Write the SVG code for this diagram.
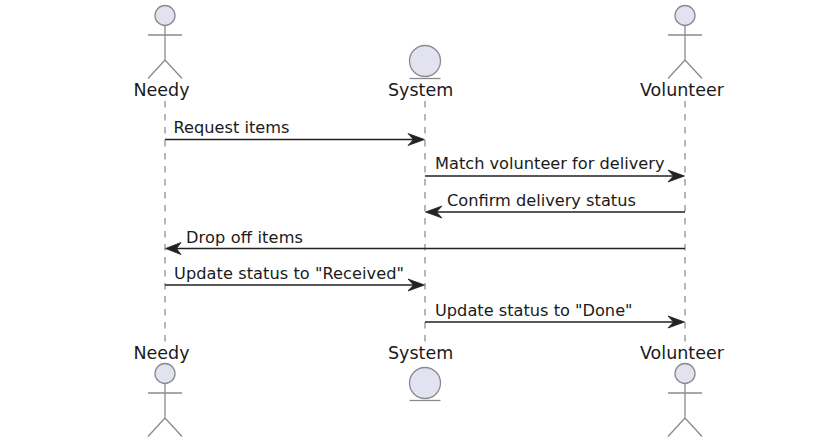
<svg xmlns="http://www.w3.org/2000/svg" width="823" height="437" viewBox="0 0 823 437">
<style>
text{font-family:"DejaVu Sans",sans-serif;fill:#1a1a1a}
.n{font-size:17.5px}
.m{font-size:16.2px}
.life{stroke:#999;stroke-width:1.4;stroke-dasharray:6.5 6.5;fill:none}
.ln{stroke:#222;stroke-width:1.4;fill:none}
.ah{fill:#222;stroke:#222;stroke-width:.8;stroke-linejoin:miter}
.sh{fill:#e2e2f0;stroke:#8a8a8f;stroke-width:1.3}
.st{fill:none;stroke:#8a8a8f;stroke-width:1.3}
</style>
<defs>
<g id="actor"><circle class="sh" cx="0" cy="0" r="10"/><path class="st" d="M0 10V44.500M-17 19.500H17M0 44.500L-17 63M0 44.500L17 63"/></g>
<g id="entity"><circle class="sh" cx="0" cy="0" r="15.500"/><path class="st" d="M-15.500 17.500H15.500"/></g>
</defs>
<rect width="823" height="437" fill="#fff"/>
<g id="connectors">
<path class="life" d="M165 101V342"/><path class="life" d="M425 101V342"/><path class="life" d="M685 101V342"/>
<path class="ln" d="M165 139.500H420M425 176H680M685 212H430M685 248.500H170M165 285H420M425 322H680"/>
<path class="ah" d="M424.500 139.500L408 133.500L413.500 139.500L408 145.500Z"/>
<path class="ah" d="M684.500 176L668 170L673.500 176L668 182Z"/>
<path class="ah" d="M425.500 212L442 206L436.500 212L442 218Z"/>
<path class="ah" d="M165.500 248.500L181 242.500L176.500 248.500L181 254.500Z"/>
<path class="ah" d="M424.500 285L408 279L413.500 285L408 291Z"/>
<path class="ah" d="M684.500 322L668 316L673.500 322L668 328Z"/>
<text class="m" x="173.500" y="132.500">Request items</text>
<text class="m" x="435" y="169">Match volunteer for delivery</text>
<text class="m" x="447" y="206">Confirm delivery status</text>
<text class="m" x="186" y="243" textLength="117">Drop off items</text>
<text class="m" x="174" y="279" textLength="230">Update status to "Received"</text>
<text class="m" x="435" y="315.500">Update status to "Done"</text>
</g>
<g id="needy-top"><use href="#actor" x="165" y="15.500"/><text class="n" x="133.500" y="96">Needy</text></g>
<g id="system-top"><use href="#entity" x="425" y="61"/><text class="n" x="388" y="96">System</text></g>
<g id="volunteer-top"><use href="#actor" x="685" y="15.500"/><text class="n" x="640" y="96">Volunteer</text></g>
<g id="needy-bottom"><text class="n" x="133.500" y="359">Needy</text><use href="#actor" x="165" y="373.500"/></g>
<g id="system-bottom"><text class="n" x="388" y="359">System</text><use href="#entity" x="425" y="383"/></g>
<g id="volunteer-bottom"><text class="n" x="640" y="359">Volunteer</text><use href="#actor" x="685" y="373.500"/></g>
</svg>
